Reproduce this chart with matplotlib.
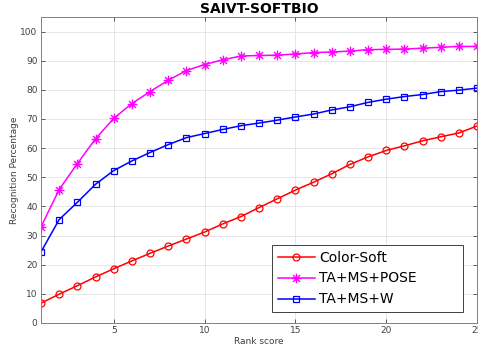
import matplotlib
matplotlib.use("Agg")
import matplotlib.pyplot as plt
from matplotlib.path import Path
import numpy as np

rank = np.arange(1, 26)

color_soft = [6.8, 9.9, 12.8, 15.8, 18.6, 21.3, 23.9, 26.4, 28.8, 31.2,
              34.0, 36.5, 39.6, 42.6, 45.6, 48.3, 51.2, 54.4, 57.0, 59.2,
              60.8, 62.5, 63.9, 65.2, 67.6]
ta_ms_pose = [33.0, 45.8, 54.7, 63.2, 70.2, 75.3, 79.4, 83.3, 86.6, 88.7,
              90.3, 91.6, 91.8, 91.9, 92.3, 92.8, 93.0, 93.3, 93.8, 93.9,
              94.0, 94.3, 94.6, 94.9, 94.9]
ta_ms_w = [24.4, 35.5, 41.4, 47.6, 52.3, 55.6, 58.5, 61.2, 63.6, 65.0,
           66.4, 67.7, 68.6, 69.6, 70.7, 71.7, 73.1, 74.2, 75.7, 76.8,
           77.7, 78.4, 79.4, 79.9, 80.6]

# matlab style asterisk: 4 strokes through the centre
verts, codes = [], []
for a in np.deg2rad([90, 45, 0, -45]):
    verts += [(np.cos(a), np.sin(a)), (-np.cos(a), -np.sin(a))]
    codes += [Path.MOVETO, Path.LINETO]
asterisk = Path(verts, codes)

fig = plt.figure(figsize=(4.78, 3.52), dpi=100)
ax = fig.add_axes([0.0858, 0.0824, 0.9122, 0.8693])

ax.plot(rank, color_soft, color=(1, 0, 0), marker='o', markersize=5,
        markerfacecolor='none', markeredgewidth=0.9, linewidth=1.1, label='Color-Soft')
ax.plot(rank, ta_ms_pose, color=(1, 0, 1), marker=asterisk, markersize=7,
        markerfacecolor='none', markeredgewidth=1.0, linewidth=1.1, label='TA+MS+POSE')
ax.plot(rank, ta_ms_w, color=(0, 0, 1), marker='s', markersize=4.2,
        markerfacecolor='none', markeredgewidth=0.9, linewidth=1.1, label='TA+MS+W')

ax.set_xlim(1, 25)
ax.set_ylim(0, 105)
ax.set_xticks([5, 10, 15, 20, 25])
ax.set_yticks(np.arange(0, 101, 10))
ax.grid(True, color='#e6e6e6', linewidth=0.7)
ax.set_axisbelow(True)
ax.tick_params(direction='in', labelsize=6.5, colors='#404040', length=3, width=0.6,
               top=True, right=True, pad=2.5)
for s in ax.spines.values():
    s.set_color('#808080')
    s.set_linewidth(0.7)

ax.set_title('SAIVT-SOFTBIO', fontsize=10, fontweight='bold', pad=3)
ax.set_xlabel('Rank score', fontsize=6.5, color='#404040', labelpad=1)
ax.set_ylabel('Recognition Percentage', fontsize=6.5, color='#404040', labelpad=1)

leg = ax.legend(loc='lower left', bbox_to_anchor=(0.530, 0.036, 0.438, 0.22),
                mode='expand', fontsize=10, handlelength=2.7, fancybox=False,
                edgecolor='#404040', framealpha=1, borderpad=0.4,
                labelspacing=0.5, handletextpad=0.3, borderaxespad=0)
leg.get_frame().set_linewidth(0.7)

fig.savefig('out.png', dpi=100)
